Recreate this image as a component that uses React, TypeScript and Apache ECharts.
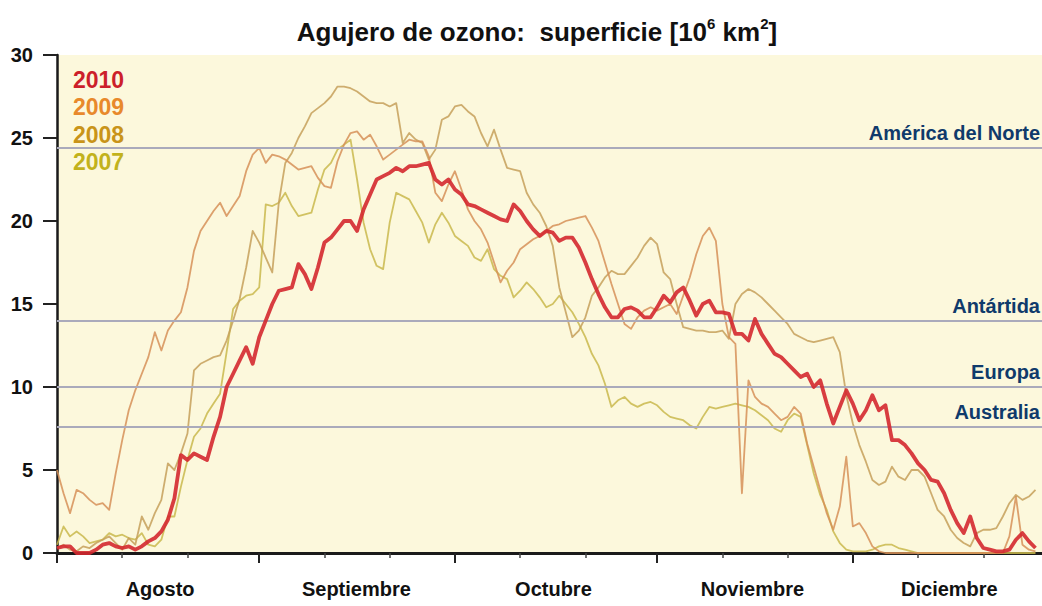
import React, { useEffect, useRef } from "react";
import * as echarts from "echarts";

const FONT = "'Liberation Sans', Arial, Helvetica, sans-serif";

const YEARS = ["2010", "2009", "2008", "2007"];
const LEGEND_COLORS = ["#cc1f2b", "#e8892b", "#c99419", "#c2b21c"];
const LINE_COLORS = ["#d4282f", "#d69058", "#c6a05a", "#c9b84c"];
const LINE_WIDTHS = [3.8, 1.8, 1.8, 1.8];

// daily values, day 0 = 1 August
const V2010 = [
  0.3, 0.4, 0.4, 0.0, 0.0, 0.0, 0.2, 0.5, 0.6, 0.4, 0.3, 0.4, 0.2, 0.4, 0.7, 0.9, 1.3, 2.0, 3.3, 5.9,
  5.6, 6.0, 5.8, 5.6, 7.0, 8.2, 10.0, 10.8, 11.6, 12.4, 11.4, 13.0, 14.0, 15.0, 15.8, 15.9, 16.0, 17.4, 16.8, 15.9,
  17.2, 18.7, 19.0, 19.5, 20.0, 20.0, 19.4, 20.7, 21.6, 22.5, 22.7, 22.9, 23.2, 23.0, 23.3, 23.3, 23.4, 23.5, 22.5, 22.2,
  22.5, 21.9, 21.6, 21.0, 20.9, 20.7, 20.5, 20.3, 20.1, 20.0, 21.0, 20.6, 20.0, 19.5, 19.1, 19.4, 19.3, 18.8, 19.0, 19.0,
  18.4, 17.5, 16.5, 15.6, 14.8, 14.2, 14.2, 14.7, 14.8, 14.6, 14.2, 14.2, 14.8, 15.5, 15.1, 15.7, 16.0, 15.2, 14.3, 15.0,
  15.2, 14.5, 14.5, 14.4, 13.2, 13.2, 12.8, 14.1, 13.2, 12.6, 12.0, 11.8, 11.4, 11.0, 10.6, 10.8, 10.0, 10.4, 9.0, 7.8,
  8.8, 9.8, 9.0, 8.0, 8.6, 9.5, 8.6, 8.9, 6.8, 6.8, 6.5, 6.0, 5.4, 5.0, 4.4, 4.3, 3.6, 2.6, 1.8, 1.2,
  2.2, 0.9, 0.3, 0.2, 0.1, 0.1, 0.2, 0.8, 1.2, 0.7, 0.3,
];
const V2009 = [
  5.0, 3.6, 2.4, 3.8, 3.6, 3.2, 2.9, 3.0, 2.6, 4.8, 6.8, 8.6, 9.8, 10.8, 11.8, 13.3, 12.2, 13.4, 14.0, 14.5,
  16.0, 18.2, 19.4, 20.0, 20.6, 21.1, 20.3, 20.9, 21.5, 23.0, 24.0, 24.4, 23.5, 24.0, 23.9, 23.7, 23.4, 23.1, 23.2, 23.3,
  22.6, 22.1, 22.0, 23.6, 24.6, 25.3, 25.4, 24.9, 25.2, 24.5, 23.7, 24.0, 24.3, 24.6, 24.9, 24.8, 24.8, 23.9, 21.7, 21.2,
  22.2, 23.0, 21.9, 20.7, 20.0, 19.5, 18.7, 17.5, 16.3, 17.0, 17.5, 18.3, 18.6, 18.9, 19.1, 19.4, 19.7, 19.8, 20.0, 20.1,
  20.2, 20.3, 19.6, 18.8, 17.5, 16.2, 15.0, 13.8, 13.5, 14.2, 14.6, 14.8, 14.6, 14.8, 15.0, 14.4, 15.5, 16.6, 18.0, 19.1,
  19.6, 18.8, 15.0, 13.0, 12.6, 3.6, 10.4, 9.4, 9.0, 8.8, 8.4, 8.0, 8.2, 8.8, 8.4, 6.6, 5.2, 3.8, 2.4, 1.4,
  2.8, 5.8, 1.6, 1.8, 1.2, 0.4, 0.1, 0.0, 0.0, 0.0, 0.0, 0.0, 0.0, 0.0, 0.0, 0.0, 0.0, 0.0, 0.0, 0.0,
  0.0, 0.0, 0.0, 0.0, 0.0, 0.0, 1.0, 3.4, 0.5, 0.2, 0.1,
];
const V2008 = [
  0.3, 0.5, 0.2, 0.1, 0.4, 0.3, 0.6, 0.8, 1.0, 0.6, 0.2, 0.9, 0.5, 2.2, 1.4, 2.4, 3.2, 5.4, 5.0, 6.0,
  7.2, 11.0, 11.4, 11.6, 11.8, 11.9, 12.8, 14.0, 15.3, 17.2, 19.4, 18.7, 17.8, 16.9, 21.1, 23.5, 24.1, 25.0, 25.7, 26.5,
  26.8, 27.1, 27.5, 28.1, 28.1, 28.0, 27.8, 27.5, 27.2, 27.1, 27.1, 26.9, 27.1, 24.7, 25.3, 24.9, 24.7, 23.7, 24.3, 26.1,
  26.3, 26.9, 27.0, 26.6, 26.3, 25.3, 24.5, 25.5, 24.3, 23.2, 23.1, 23.0, 21.7, 21.0, 20.5, 19.7, 18.5, 16.0, 14.5, 13.0,
  13.4, 14.2, 15.5, 16.0, 16.6, 17.0, 16.8, 16.8, 17.3, 17.8, 18.5, 19.0, 18.6, 16.9, 16.5, 15.0, 13.6, 13.5, 13.4, 13.4,
  13.3, 13.3, 13.4, 12.9, 15.0, 15.6, 15.9, 15.7, 15.4, 15.0, 14.6, 14.2, 13.8, 13.2, 13.0, 12.8, 12.7, 12.8, 12.9, 13.0,
  12.1, 9.5, 7.8, 6.5, 5.5, 4.4, 4.1, 4.3, 5.2, 4.6, 4.4, 5.0, 5.0, 4.6, 3.6, 2.6, 2.2, 1.4, 0.9, 0.6,
  0.4, 1.2, 1.4, 1.4, 1.5, 2.2, 3.0, 3.5, 3.2, 3.4, 3.8,
];
const V2007 = [
  0.5, 1.6, 1.0, 1.3, 1.0, 0.6, 0.7, 0.8, 1.2, 1.0, 1.1, 0.9, 0.8, 1.2, 0.5, 0.4, 0.8, 2.2, 2.2, 4.0,
  5.6, 7.0, 7.5, 8.4, 9.0, 9.6, 12.1, 14.7, 15.2, 15.5, 15.6, 16.0, 21.0, 20.9, 21.1, 21.7, 20.9, 20.3, 20.4, 20.5,
  21.9, 23.1, 23.5, 24.3, 24.6, 24.9, 22.5, 19.9, 18.3, 17.3, 17.1, 19.9, 21.7, 21.5, 21.3, 20.6, 19.9, 18.7, 19.8, 20.5,
  19.9, 19.1, 18.8, 18.5, 17.8, 17.6, 18.3, 17.1, 16.7, 16.5, 15.4, 15.8, 16.3, 15.9, 15.4, 14.8, 15.0, 15.5, 15.0, 14.5,
  13.8, 13.0, 12.0, 11.3, 10.2, 8.8, 9.2, 9.4, 9.0, 8.8, 9.0, 9.1, 8.9, 8.5, 8.2, 8.1, 8.0, 7.7, 7.5, 8.2,
  8.8, 8.7, 8.8, 8.9, 9.0, 8.9, 8.8, 8.6, 8.3, 8.0, 7.5, 7.3, 8.0, 8.4, 8.2, 6.5, 4.8, 3.5, 2.6, 1.3,
  0.6, 0.2, 0.1, 0.1, 0.1, 0.2, 0.4, 0.5, 0.5, 0.3, 0.2, 0.1, 0.0, 0.0, 0.0, 0.0, 0.0, 0.0, 0.0, 0.0,
  0.0, 0.0, 0.0, 0.0, 0.0, 0.0, 0.0, 0.0, 0.0, 0.0, 0.0,
];
const SERIES_VALUES = [V2010, V2009, V2008, V2007];

const MONTHS = ["Agosto", "Septiembre", "Octubre", "Noviembre", "Diciembre"];
const MONTH_START_DAYS = [0, 31, 61, 92, 122];
const MINOR_TICK_DAYS = [10, 20, 41, 51, 71, 81, 102, 112, 132, 142];
const MONTH_LABEL_DAYS = [15.8, 45.9, 76.1, 106.6, 136.8];

const REGIONS = ["América del Norte", "Antártida", "Europa", "Australia"];
const REGION_AREAS = [24.4, 14.0, 10.0, 7.6];

const X_MIN = 0;
const X_MAX = 151;
const Y_MIN = 0;
const Y_MAX = 30;
const Y_STEP = 5;

export default function App() {
  const ref = useRef<HTMLDivElement>(null);

  useEffect(() => {
    if (!ref.current) return;
    const chart = echarts.init(ref.current, undefined, { renderer: "svg" });

    const lineSeries = YEARS.map((y, i) => ({
      name: y,
      type: "line",
      xAxisIndex: 0,
      yAxisIndex: 0,
      showSymbol: false,
      symbol: "none",
      smooth: false,
      z: i === 0 ? 5 : 3,
      lineStyle: { color: LINE_COLORS[i], width: LINE_WIDTHS[i], opacity: i === 0 ? 0.9 : 0.85, join: "round" },
      data: SERIES_VALUES[i].map((v, d) => [d, v]),
    })).reverse();

    const refSeries = {
      name: "ref",
      type: "line",
      data: [],
      z: 1,
      markLine: {
        silent: true,
        symbol: "none",
        animation: false,
        lineStyle: { color: "#aaaabb", width: 2, type: "solid", opacity: 1 },
        label: {
          show: true,
          position: "insideEndTop",
          formatter: "{b}",
          color: "#0f3a6b",
          fontWeight: "bold",
          fontSize: 20,
          fontFamily: FONT,
          distance: [2, 5],
        },
        data: REGIONS.map((r, i) => ({ name: r, yAxis: REGION_AREAS[i] })),
      },
    };

    const option: any = {
      animation: false,
      backgroundColor: "#ffffff",
      title: {
        text: "{a|Agujero de ozono:  superficie [10}{s|6}{a| km}{s|2}{a|]}",
        left: 532,
        top: 11,
        textAlign: "center",
        textStyle: {
          rich: {
            a: { fontSize: 26, fontWeight: "bold", fontFamily: FONT, color: "#111", lineHeight: 32 },
            s: { fontSize: 15, fontWeight: "bold", fontFamily: FONT, color: "#111", lineHeight: 18, verticalAlign: "top" },
          },
        },
      },
      grid: {
        left: 57,
        right: 0,
        top: 55,
        bottom: 53,
        show: true,
        backgroundColor: "#fcf8dc",
        borderWidth: 0,
      },
      xAxis: [
        {
          type: "value",
          min: X_MIN,
          max: X_MAX,
          position: "bottom",
          axisLine: { show: true, lineStyle: { color: "#1a1a1a", width: 3 } },
          axisTick: { show: true, customValues: MONTH_START_DAYS, length: 10, lineStyle: { color: "#222", width: 2 } },
          axisLabel: {
            show: true,
            customValues: MONTH_LABEL_DAYS,
            margin: 26,
            color: "#111",
            fontSize: 20,
            fontWeight: "bold",
            fontFamily: FONT,
            formatter: (v: number) => {
              let best = 0;
              MONTH_LABEL_DAYS.forEach((d, i) => {
                if (Math.abs(d - v) < Math.abs(MONTH_LABEL_DAYS[best] - v)) best = i;
              });
              return MONTHS[best];
            },
          },
          splitLine: { show: false },
        },
        {
          type: "value",
          min: X_MIN,
          max: X_MAX,
          position: "bottom",
          axisLine: { show: false },
          axisTick: { show: true, customValues: MINOR_TICK_DAYS, length: 5, lineStyle: { color: "#444", width: 1.5 } },
          axisLabel: { show: false },
          splitLine: { show: false },
        },
      ],
      yAxis: {
        type: "value",
        min: Y_MIN,
        max: Y_MAX,
        interval: Y_STEP,
        axisLine: { show: true, lineStyle: { color: "#1a1a1a", width: 2.5 } },
        axisTick: { show: true, length: 14, lineStyle: { color: "#222", width: 2 } },
        axisLabel: { margin: 24, color: "#111", fontSize: 20, fontWeight: "bold", fontFamily: FONT },
        splitLine: { show: false },
      },
      graphic: YEARS.map((y, i) => ({
        type: "text",
        left: 73,
        top: 68 + i * 27.5,
        z: 10,
        style: {
          text: y,
          fill: LEGEND_COLORS[i],
          font: `bold 23px ${FONT}`,
        },
      })),
      series: [refSeries, ...lineSeries],
    };

    chart.setOption(option);
    return () => chart.dispose();
  }, []);

  return (
    <div
      ref={ref}
      style={{ position: "fixed", left: 0, top: 0, width: 1042, height: 606, background: "#fff" }}
    />
  );
}
